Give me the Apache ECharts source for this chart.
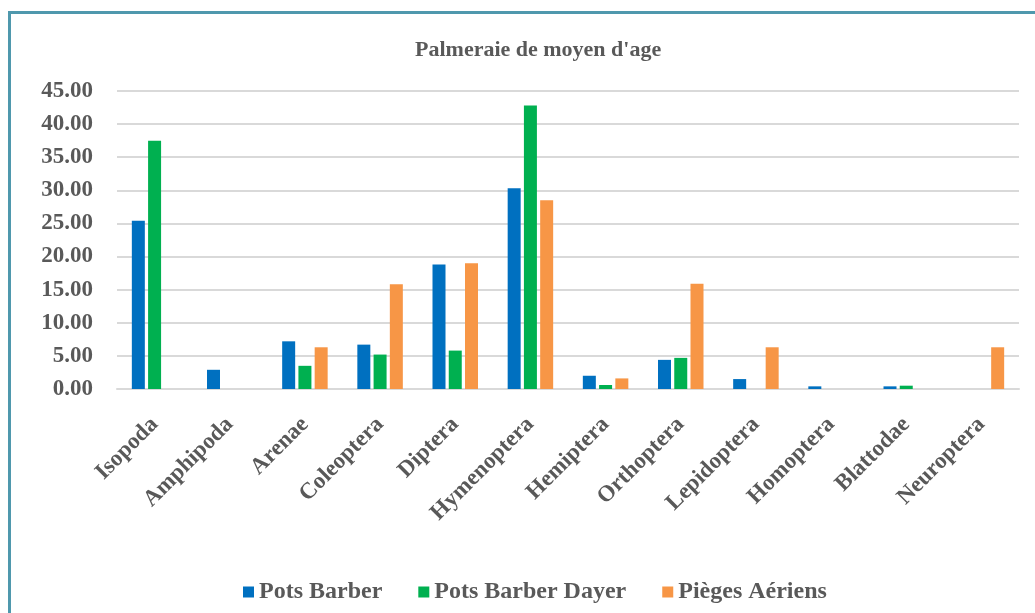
<!DOCTYPE html>
<html>
<head>
<meta charset="utf-8">
<script src="https://cdn.jsdelivr.net/npm/echarts@6/dist/echarts.min.js"></script>
<style>
    html, body { margin: 0; padding: 0; background: #fff; overflow: hidden; }
    #frame {
        position: absolute; left: 8px; top: 11px;
        width: 1100px; height: 700px;
        border: 3px solid #4f98ad;
        box-sizing: border-box;
    }
    #chart { position: absolute; left: 0; top: 0; width: 1035px; height: 613px; }
</style>
</head>
<body>
<div id="frame"></div>
<div id="chart"></div>
<script>
    // 类目与数据
    var categories = ['Isopoda', 'Amphipoda', 'Arenae', 'Coleoptera', 'Diptera', 'Hymenoptera',
        'Hemiptera', 'Orthoptera', 'Lepidoptera', 'Homoptera', 'Blattodae', 'Neuroptera'];
    var potsBarber = [25.4, 2.9, 7.2, 6.7, 18.8, 30.3, 2.0, 4.4, 1.5, 0.4, 0.4, 0];
    var potsBarberDayer = [37.5, 0, 3.5, 5.2, 5.8, 42.8, 0.6, 4.7, 0, 0, 0.5, 0];
    var piegesAeriens = [0, 0, 6.3, 15.8, 19.0, 28.5, 1.6, 15.9, 6.3, 0, 0, 6.3];
    var seriesNames = ['Pots Barber', 'Pots Barber Dayer', 'Pièges Aériens'];

    var font = '"Liberation Serif", "DejaVu Serif", serif';
    var textColor = '#595959';

    var myChart = echarts.init(document.getElementById('chart'));
    var option = {
        color: ['#0070C0', '#00B050', '#F79646'],
        title: {
            text: "Palmeraie de moyen d'age",
            left: 410,
            top: 34,
            textStyle: { fontFamily: font, fontSize: 22, fontWeight: 'bold', color: textColor }
        },
        legend: {
            bottom: 4,
            left: 238,
            icon: 'rect',
            itemWidth: 11,
            itemHeight: 11,
            itemGap: 36,
            textStyle: { fontFamily: font, fontSize: 24, fontWeight: 'bold', color: textColor },
            data: seriesNames
        },
        grid: { left: 117, right: 16, top: 91, bottom: 224 },
        xAxis: {
            type: 'category',
            data: categories,
            axisLine: { lineStyle: { color: '#D9D9D9', width: 2 } },
            axisTick: { show: false },
            axisLabel: {
                interval: 0,
                rotate: 45,
                margin: 32,
                fontFamily: font, fontSize: 23, fontWeight: 'bold', color: textColor
            }
        },
        yAxis: {
            type: 'value',
            min: 0, max: 45, interval: 5,
            axisLine: { show: false },
            axisTick: { show: false },
            splitLine: { lineStyle: { color: '#D9D9D9', width: 2 } },
            axisLabel: {
                margin: 24,
                formatter: function (v) { return v.toFixed(2); },
                fontFamily: font, fontSize: 23, fontWeight: 'bold', color: textColor
            }
        },
        series: [
            { name: seriesNames[0], type: 'bar', data: potsBarber, barWidth: 13, barGap: '25%' },
            { name: seriesNames[1], type: 'bar', data: potsBarberDayer, barWidth: 13, barGap: '25%' },
            { name: seriesNames[2], type: 'bar', data: piegesAeriens, barWidth: 13, barGap: '25%' }
        ]
    };
    myChart.setOption(option);
</script>
</body>
</html>
